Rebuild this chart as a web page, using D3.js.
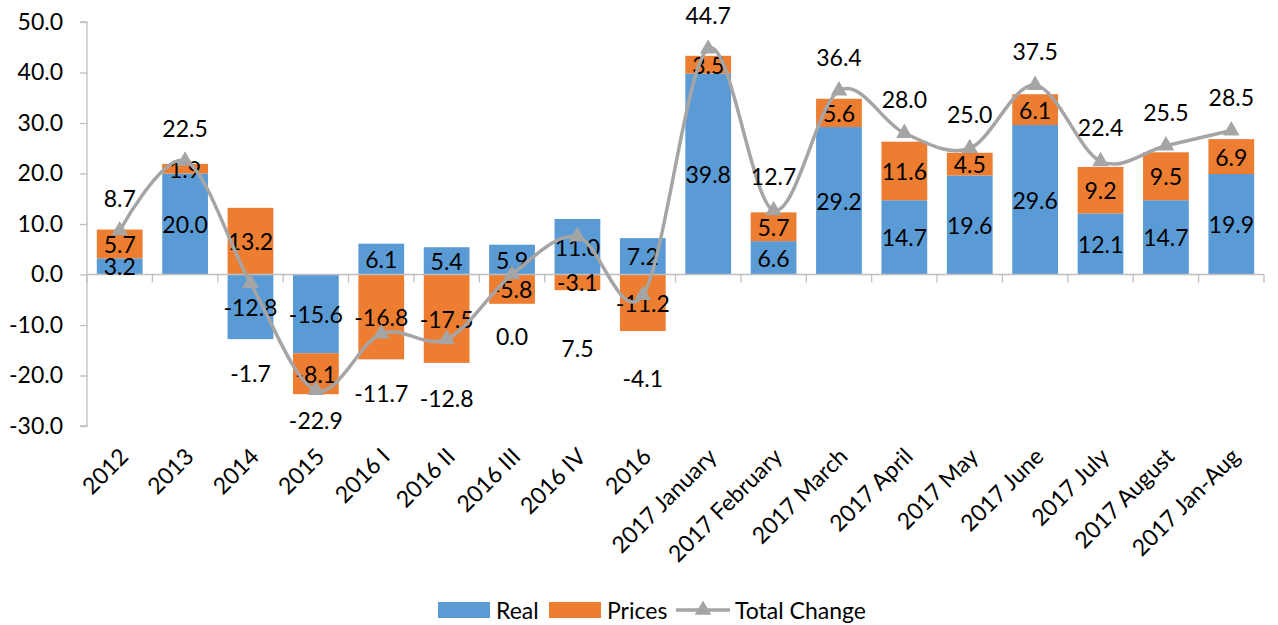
<!DOCTYPE html>
<html>
<head>
<meta charset="utf-8">
<script src="https://cdn.jsdelivr.net/npm/d3@7"></script>
<style>
  body { margin: 0; background: #fff; }
  svg text { font-family: Lato, "Open Sans", sans-serif; fill: #000; }
</style>
</head>
<body>
<div id="chart"></div>
<script>
// ---------------- DATA ----------------
const categories = ["2012", "2013", "2014", "2015", "2016 I", "2016 II", "2016 III", "2016 IV", "2016",
  "2017 January", "2017 February", "2017 March", "2017 April", "2017 May", "2017 June",
  "2017 July", "2017 August", "2017 Jan-Aug"];
const realValues = [3.2, 20.0, -12.8, -15.6, 6.1, 5.4, 5.9, 11.0, 7.2, 39.8, 6.6, 29.2, 14.7, 19.6, 29.6, 12.1, 14.7, 19.9];
const priceValues = [5.7, 1.9, 13.2, -8.1, -16.8, -17.5, -5.8, -3.1, -11.2, 3.5, 5.7, 5.6, 11.6, 4.5, 6.1, 9.2, 9.5, 6.9];
const totalValues = [8.7, 22.5, -1.7, -22.9, -11.7, -12.8, 0.0, 7.5, -4.1, 44.7, 12.7, 36.4, 28.0, 25.0, 37.5, 22.4, 25.5, 28.5];
const yTicks = [-30, -20, -10, 0, 10, 20, 30, 40, 50];

// label placement for the total line (px from the point), as in the original sheet
const totalLabelDy = [-33, -33, 90, 30, 59, 59, 61, 111, 83, -34, -34, -34, -34, -34, -34, -34, -34, -34];

const width = 1278, height = 625;
const margin = {top: 22, right: 14, bottom: 199, left: 87};
const colors = {real: "#5B9BD5", prices: "#ED7D31", total: "#A5A5A5", axis: "#BFBFBF"};
const fontSize = 23;
const fmt = d => d.toFixed(1);

const svg = d3.select("#chart").append("svg")
  .attr("width", width)
  .attr("height", height);

const x = d3.scaleBand()
  .domain(categories)
  .range([margin.left, width - margin.right])
  .paddingInner(0.3)
  .paddingOuter(0.15);

const y = d3.scaleLinear()
  .domain([-30, 50])
  .range([height - margin.bottom, margin.top]);

// stacked rows (positive and negative stacked separately, like Excel)
const rows = categories.map((c, i) => ({cat: c, real: realValues[i], prices: priceValues[i]}));
const stack = d3.stack().keys(["real", "prices"]).offset(d3.stackOffsetDiverging);
const series = stack(rows);

// y axis
const yAxis = svg.append("g")
  .attr("transform", `translate(${margin.left},0)`)
  .call(d3.axisLeft(y).tickValues(yTicks).tickSize(7).tickPadding(17).tickFormat(fmt));
yAxis.selectAll("line, path").attr("stroke", colors.axis).attr("stroke-width", 1.3);
yAxis.select(".domain").attr("d", `M-7,${y(-30)}H0V${y(50)}H-7`);
yAxis.selectAll("text").style("font-size", fontSize + "px").style("font-family", "Lato, sans-serif");

// bars
const half = (x.step() - x.bandwidth()) / 2;
svg.append("g").selectAll("g")
  .data(series)
  .join("g")
  .attr("fill", d => colors[d.key])
  .selectAll("rect")
  .data(d => d)
  .join("rect")
  .attr("x", d => x(d.data.cat))
  .attr("width", x.bandwidth())
  .attr("y", d => y(Math.max(d[0], d[1])))
  .attr("height", d => Math.abs(y(d[0]) - y(d[1])));

// x axis line at zero with boundary ticks
const xAxis = svg.append("g").attr("stroke", colors.axis).attr("stroke-width", 1.3);
xAxis.append("line")
  .attr("x1", margin.left).attr("x2", width - margin.right)
  .attr("y1", y(0)).attr("y2", y(0));
xAxis.selectAll("line.tick")
  .data(categories.concat([null]))
  .join("line")
  .attr("class", "tick")
  .attr("x1", (d, i) => i < categories.length ? x(d) - half : x(categories[i - 1]) + x.bandwidth() + half)
  .attr("x2", (d, i) => i < categories.length ? x(d) - half : x(categories[i - 1]) + x.bandwidth() + half)
  .attr("y1", y(0)).attr("y2", y(0) + 8);

// x labels, rotated
svg.append("g").selectAll("text")
  .data(categories)
  .join("text")
  .attr("text-anchor", "end")
  .attr("transform", d => `translate(${x(d) + x.bandwidth() / 2 + 10},${y(-30) + 32}) rotate(-45)`)
  .style("font-size", fontSize + "px")
  .text(d => d);

// bar segment labels
svg.append("g").selectAll("g")
  .data(series)
  .join("g")
  .selectAll("text")
  .data(d => d.map(s => ({s, key: d.key})))
  .join("text")
  .attr("x", d => x(d.s.data.cat) + x.bandwidth() / 2)
  .attr("y", d => y((d.s[0] + d.s[1]) / 2))
  .attr("text-anchor", "middle")
  .attr("dominant-baseline", "central")
  .style("font-size", fontSize + "px")
  .text(d => fmt(d.s.data[d.key]));

// total change line
const cx = (c) => x(c) + x.bandwidth() / 2;
const line = d3.line()
  .x((d, i) => cx(categories[i]))
  .y(d => y(d))
  .curve(d3.curveCardinal.tension(0));

svg.append("path")
  .datum(totalValues)
  .attr("fill", "none")
  .attr("stroke", colors.total)
  .attr("stroke-width", 3.5)
  .attr("stroke-linejoin", "round")
  .attr("d", line);

const tri = d3.symbol().type(d3.symbolTriangle).size(120);
svg.append("g").selectAll("path")
  .data(totalValues)
  .join("path")
  .attr("d", tri)
  .attr("fill", colors.total)
  .attr("transform", (d, i) => `translate(${cx(categories[i])},${y(d)})`);

svg.append("g").selectAll("text")
  .data(totalValues)
  .join("text")
  .attr("x", (d, i) => cx(categories[i]))
  .attr("y", (d, i) => y(d) + totalLabelDy[i])
  .attr("text-anchor", "middle")
  .attr("dominant-baseline", "central")
  .style("font-size", fontSize + "px")
  .text(fmt);

// legend
const legend = svg.append("g").attr("transform", `translate(438,${height - 23})`);
legend.append("rect").attr("x", 0).attr("y", 0).attr("width", 52).attr("height", 16).attr("fill", colors.real);
legend.append("text").attr("x", 58).attr("y", 8).attr("dominant-baseline", "central")
  .style("font-size", fontSize + "px").text("Real");
legend.append("rect").attr("x", 111).attr("y", 0).attr("width", 52).attr("height", 16).attr("fill", colors.prices);
legend.append("text").attr("x", 169).attr("y", 8).attr("dominant-baseline", "central")
  .style("font-size", fontSize + "px").text("Prices");
legend.append("line").attr("x1", 238).attr("x2", 292).attr("y1", 8).attr("y2", 8)
  .attr("stroke", colors.total).attr("stroke-width", 3.5);
legend.append("path").attr("d", tri).attr("fill", colors.total).attr("transform", "translate(265,8)");
legend.append("text").attr("x", 297).attr("y", 8).attr("dominant-baseline", "central")
  .style("font-size", fontSize + "px").text("Total Change");
</script>
</body>
</html>
